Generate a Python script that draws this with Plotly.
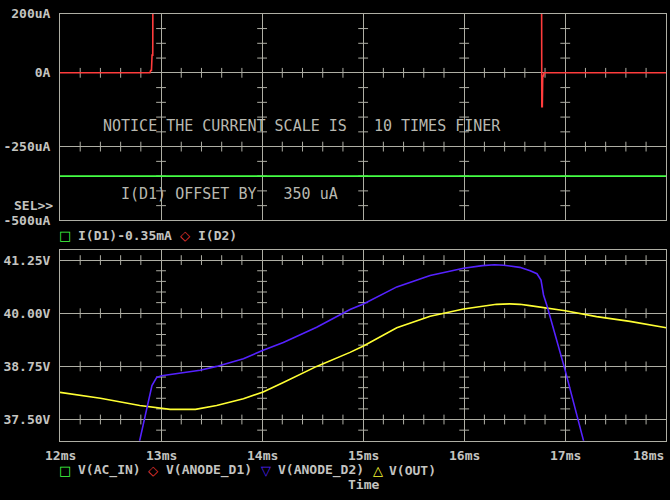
import plotly.graph_objects as go

# ---------------- data ----------------
# top panel: currents (uA) vs time (ms)
t_d1 = [12.0, 18.0]
i_d1_offset = [-350, -350]          # I(D1)-0.35mA

t_d2 = [12.0, 12.890, 12.897, 12.905, 12.911, 12.918, 12.921,
        16.764, 16.768, 16.773, 16.777, 16.785, 16.790, 18.0]
i_d2 = [0, 0, 8, 8, 60, 60, 600,
        600, -115, -115, -11, -11, 0, 0]   # I(D2)

# bottom panel: voltages (V) vs time (ms)
t_anode_d2 = [12.76, 12.79, 12.86, 12.91, 12.957, 13.006, 13.22, 13.386, 13.55,
              13.815, 14.01, 14.21, 14.54, 14.87, 15.003, 15.333, 15.663, 15.993,
              16.18, 16.3, 16.39, 16.55, 16.653, 16.72, 16.76, 16.785, 16.82,
              17.0, 17.18, 17.21]
v_anode_d2 = [36.7, 37.0, 37.77, 38.3, 38.49, 38.53, 38.61, 38.66, 38.75,
              38.93, 39.13, 39.31, 39.67, 40.09, 40.22, 40.62, 40.89, 41.06,
              41.12, 41.14, 41.13, 41.08, 41.0, 40.93, 40.78, 40.43, 40.17,
              38.65, 37.01, 36.75]

t_out = [12.0, 12.4, 12.79, 12.891, 13.006, 13.09, 13.34, 13.55, 13.815, 14.01,
         14.21, 14.54, 14.87, 15.003, 15.333, 15.663, 15.993, 16.32, 16.45,
         16.55, 16.65, 16.82, 17.0, 17.31, 17.64, 18.0]
v_out = [38.14, 38.0, 37.83, 37.80, 37.76, 37.74, 37.74, 37.83, 37.99, 38.15,
         38.37, 38.75, 39.08, 39.23, 39.66, 39.93, 40.10, 40.21, 40.22,
         40.21, 40.18, 40.13, 40.06, 39.92, 39.81, 39.66]

x_ticks = [12, 13, 14, 15, 16, 17, 18]
x_ticktext = ["12ms", "13ms", "14ms", "15ms", "16ms", "17ms", "18ms"]
top_yticks = [200, 0, -250, -500]
top_yticktext = ["200uA", "0A", "-250uA", "-500uA"]
bot_yticks = [41.25, 40.0, 38.75, 37.5]
bot_yticktext = ["41.25V", "40.00V", "38.75V", "37.50V"]

# ---------------- style ----------------
GRID = "#aeaea4"
TXT = "#c4c4c0"
MONO = "DejaVu Sans Mono"
RED = "#ff3c3c"
GREEN = "#44ff44"
BLUE = "#5522ff"
YELLOW = "#ffff33"

fig = go.Figure()

# minor tick positions (grid decoration)
minor_t = [round(12 + 0.2 * k, 2) for k in range(1, 30) if k % 5 != 0]
top_minor_y = [v for v in range(-450, 200, 50) if v not in (0, -250)]
bot_minor_y = [37.25 + 0.25 * k for k in range(17) if (37.25 + 0.25 * k) not in bot_yticks]
inner_t = [13, 14, 15, 16, 17]


def tick_trace(xs, ys, symbol, xa, ya):
    return go.Scatter(x=xs, y=ys, mode="markers", xaxis=xa, yaxis=ya,
                      marker=dict(symbol=symbol, size=7, color=GRID,
                                  line=dict(color=GRID, width=1)),
                      hoverinfo="skip", showlegend=False)


# top panel ticks
for yv in [0, -250]:
    fig.add_trace(tick_trace(minor_t, [yv] * len(minor_t), "line-ns", "x", "y"))
for tv in inner_t:
    fig.add_trace(tick_trace([tv] * len(top_minor_y), top_minor_y, "line-ew", "x", "y"))
# bottom panel ticks
for yv in bot_yticks:
    fig.add_trace(tick_trace(minor_t, [yv] * len(minor_t), "line-ns", "x2", "y2"))
for tv in inner_t:
    fig.add_trace(tick_trace([tv] * len(bot_minor_y), bot_minor_y, "line-ew", "x2", "y2"))

# data traces
fig.add_trace(go.Scatter(x=t_d1, y=i_d1_offset, mode="lines", xaxis="x", yaxis="y",
                         line=dict(color=GREEN, width=1.8), name="I(D1)-0.35mA"))
fig.add_trace(go.Scatter(x=t_d2, y=i_d2, mode="lines", xaxis="x", yaxis="y",
                         line=dict(color=RED, width=1.6), name="I(D2)"))
fig.add_trace(go.Scatter(x=t_out, y=v_out, mode="lines", xaxis="x2", yaxis="y2",
                         line=dict(color=YELLOW, width=1.6), name="V(OUT)"))
fig.add_trace(go.Scatter(x=t_anode_d2, y=v_anode_d2, mode="lines", xaxis="x2", yaxis="y2",
                         line=dict(color=BLUE, width=1.6), name="V(ANODE_D2)"))

xdom = [60 / 670, 666.3 / 670]
axis_common = dict(showgrid=True, gridcolor=GRID, gridwidth=1, zeroline=False,
                   showline=True, linecolor=GRID, linewidth=1, mirror=True,
                   ticks="", fixedrange=True)

tickfont = dict(family=MONO, size=13, color=TXT, weight="bold")

fig.update_layout(
    width=670, height=500, autosize=False,
    margin=dict(l=0, r=0, t=0, b=0, pad=0),
    paper_bgcolor="black", plot_bgcolor="black",
    showlegend=False, hovermode=False,
    xaxis=dict(domain=xdom, range=[12, 18], tickvals=x_ticks, showticklabels=False,
               anchor="y", **axis_common),
    yaxis=dict(domain=[1 - 220 / 500, 1 - 7 / 500], range=[-500.01, 200.01],
               tickvals=top_yticks, ticktext=top_yticktext, tickfont=tickfont,
               ticklabelstandoff=6, ticklabeloverflow="allow", anchor="x", **axis_common),
    xaxis2=dict(domain=xdom, range=[12, 18], tickvals=x_ticks, showticklabels=False,
                anchor="y2", **axis_common),
    yaxis2=dict(domain=[1 - 447.2 / 500, 1 - 250.0 / 500], range=[37.0, 41.5],
                tickvals=bot_yticks, ticktext=bot_yticktext, tickfont=tickfont,
                ticklabelstandoff=6, ticklabeloverflow="allow", anchor="x2", **axis_common),
)

ann = []
# x tick labels on bottom axis
for tv, tt in zip(x_ticks, x_ticktext):
    ann.append(dict(x=tv, y=1 - 462 / 500, xref="x2", yref="paper", text=tt,
                    showarrow=False, xanchor="right" if tv == 18 else "center",
                    yanchor="middle", font=tickfont))

NB = "\u00a0"
notice_font = dict(family=MONO, size=15, color="#b8b8b0")
ann.append(dict(x=12.405, y=-179, xref="x", yref="y", xanchor="left", yanchor="middle",
                showarrow=False, font=notice_font,
                text=("NOTICE THE CURRENT SCALE IS   10 TIMES FINER").replace(" ", NB)))
ann.append(dict(x=12.58, y=-409, xref="x", yref="y", xanchor="left", yanchor="middle",
                showarrow=False, font=notice_font,
                text=("I(D1) OFFSET BY   350 uA").replace(" ", NB)))
ann.append(dict(x=55 / 670, y=1 - 205 / 500, xref="paper", yref="paper", xanchor="right",
                yanchor="middle", showarrow=False, font=tickfont, text="SEL&gt;&gt;"))


def legend_items(items, ypx):
    for xpx, txt, color, anchor in items:
        ann.append(dict(x=xpx / 670, y=1 - ypx / 500, xref="paper", yref="paper",
                        xanchor=anchor, yanchor="middle", showarrow=False,
                        font=dict(family=MONO if color is None else "DejaVu Sans",
                                  size=13, color=TXT if color is None else color,
                                  weight="bold" if color is None else "normal"),
                        text=txt))


legend_items([
    (65, "\u25a1", GREEN, "center"),
    (76, "I(D1)-0.35mA", None, "left"),
    (185, "\u25c7", RED, "center"),
    (196, "I(D2)", None, "left"),
], 236)
legend_items([
    (65, "\u25a1", GREEN, "center"),
    (75.5, "V(AC_IN)", None, "left"),
    (153, "\u25c7", RED, "center"),
    (164, "V(ANODE_D1)", None, "left"),
    (265.5, "\u25bd", BLUE, "center"),
    (275.5, "V(ANODE_D2)", None, "left"),
    (377.5, "\u25b3", YELLOW, "center"),
    (387, "V(OUT)", None, "left"),
], 477.7)
ann.append(dict(x=363.3 / 670, y=1 - 492.3 / 500, xref="paper", yref="paper",
                xanchor="center", yanchor="middle", showarrow=False, font=tickfont,
                text="Time"))

fig.update_layout(annotations=ann)
fig.write_html("out.html",
               config={"responsive": False, "displayModeBar": False},
               post_script="document.body.style.margin='0';document.body.style.overflow='hidden';")
